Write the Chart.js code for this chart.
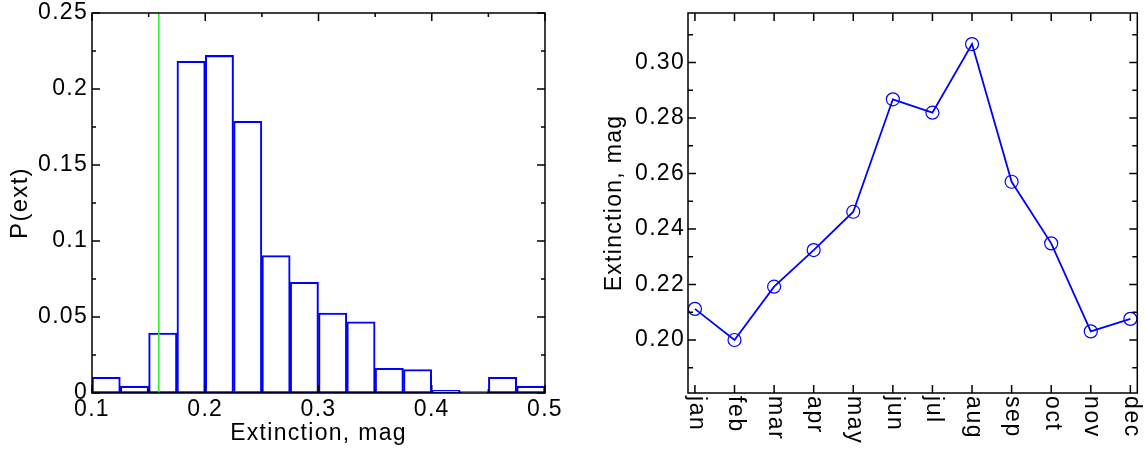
<!DOCTYPE html>
<html>
<head>
<meta charset="utf-8">
<script src="https://cdn.jsdelivr.net/npm/chart.js@4.4.0/dist/chart.umd.min.js"></script>
<style>
  html, body { margin: 0; padding: 0; background: #fff; }
  #wrap { position: relative; width: 1145px; height: 449px; overflow: hidden; }
  .box { position: absolute; top: 0; height: 449px; }
  #histBox { left: 0; width: 565px; }
  #monthBox { left: 575px; width: 570px; }
</style>
</head>
<body>
<div id="wrap">
  <div class="box" id="histBox"><canvas id="histChart"></canvas></div>
  <div class="box" id="monthBox"><canvas id="monthChart"></canvas></div>
</div>
<script>
// left panel: histogram of extinction (bins of 0.025 mag)
const binCentres = [0.1125, 0.1375, 0.1625, 0.1875, 0.2125, 0.2375, 0.2625, 0.2875,
                    0.3125, 0.3375, 0.3625, 0.3875, 0.4125, 0.4375, 0.4625, 0.4875];
const binProb = [0.0103, 0.0045, 0.0395, 0.2182, 0.2221, 0.1787, 0.0904, 0.0728,
                 0.0526, 0.0469, 0.0162, 0.0154, 0.0018, 0.0009, 0.0103, 0.0045];
const cutLine = 0.159;
const histXTicks = [0.1, 0.15, 0.2, 0.25, 0.3, 0.35, 0.4, 0.45, 0.5];
const histXLabels = ['0.1', '0.2', '0.3', '0.4', '0.5'];
const histYTicks = [0, 0.025, 0.05, 0.075, 0.1, 0.125, 0.15, 0.175, 0.2, 0.225, 0.25];
const histYLabels = ['0', '0.05', '0.1', '0.15', '0.2', '0.25'];

// right panel: monthly mean extinction
const months = ['jan', 'feb', 'mar', 'apr', 'may', 'jun', 'jul', 'aug', 'sep', 'oct', 'nov', 'dec'];
const monthExt = [0.2112, 0.2000, 0.2192, 0.2324, 0.2462, 0.2867, 0.2819, 0.3066, 0.2570, 0.2348, 0.2031, 0.2076];
const monthYTicks = [0.19, 0.20, 0.21, 0.22, 0.23, 0.24, 0.25, 0.26, 0.27, 0.28, 0.29, 0.30, 0.31];
const monthYLabels = ['0.20', '0.22', '0.24', '0.26', '0.28', '0.30'];

const FONT = '"Liberation Sans", Arial, Helvetica, sans-serif';
Chart.defaults.font.family = FONT;
Chart.defaults.font.size = 23;
Chart.defaults.color = '#000';

// box round the plot area with inward ticks on all four sides
const frameTicks = {
  id: 'frameTicks',
  beforeDraw(chart) {
    chart.ctx.letterSpacing = '1.3px';
  },
  afterDraw(chart, args, opts) {
    const { ctx, chartArea: a } = chart;
    const xs = chart.scales.x, ys = chart.scales.y;
    ctx.save();
    ctx.strokeStyle = '#000';
    ctx.lineWidth = 1.5;
    ctx.beginPath();
    xs.ticks.forEach(t => {
      const px = xs.getPixelForValue(t.value);
      const len = t.label !== '' ? opts.major : opts.minor;
      ctx.moveTo(px, a.bottom); ctx.lineTo(px, a.bottom - len);
      ctx.moveTo(px, a.top); ctx.lineTo(px, a.top + len);
    });
    ys.ticks.forEach(t => {
      const py = ys.getPixelForValue(t.value);
      const len = t.label !== '' ? opts.major : opts.minor;
      ctx.moveTo(a.left, py); ctx.lineTo(a.left + len, py);
      ctx.moveTo(a.right, py); ctx.lineTo(a.right - len, py);
    });
    ctx.stroke();
    ctx.strokeRect(a.left, a.top, a.right - a.left, a.bottom - a.top);
    ctx.restore();
  }
};

// month names turned a quarter clockwise under the axis
const monthLabels = {
  id: 'monthLabels',
  afterDraw(chart) {
    const { ctx, chartArea: a } = chart;
    const xs = chart.scales.x;
    ctx.save();
    ctx.font = '23px ' + FONT;
    ctx.letterSpacing = '1.6px';
    ctx.fillStyle = '#000';
    ctx.textAlign = 'left';
    ctx.textBaseline = 'middle';
    months.forEach((m, i) => {
      ctx.save();
      ctx.translate(xs.getPixelForValue(i) + 1, a.bottom + 3);
      ctx.rotate(Math.PI / 2);
      ctx.fillText(m, 0, 0);
      ctx.restore();
    });
    ctx.restore();
  }
};

function fixSize(w, h) {
  return (scale) => {
    if (w) scale.width = w;
    if (h) scale.height = h;
    scale.paddingLeft = 0; scale.paddingRight = 0;
    scale.paddingTop = 0; scale.paddingBottom = 0;
  };
}

function setTicks(values) {
  return (scale) => { scale.ticks = values.map(v => ({ value: v })); };
}

const fmt = (v) => String(+v.toFixed(3));

new Chart(document.getElementById('histChart'), {
  type: 'bar',
  data: {
    datasets: [
      {
        type: 'line',
        order: 0,
        data: [{ x: cutLine, y: 0 }, { x: cutLine, y: 0.25 }],
        borderColor: '#22ee22',
        borderWidth: 1.5,
        pointRadius: 0
      },
      {
        type: 'bar',
        order: 1,
        data: binCentres.map((c, i) => ({ x: c, y: binProb[i] })),
        backgroundColor: 'rgba(0,0,0,0)',
        borderColor: '#0000ff',
        borderWidth: 1.4,
        borderSkipped: false,
        barPercentage: 1,
        categoryPercentage: 1
      }
    ]
  },
  options: {
    responsive: true,
    maintainAspectRatio: false,
    animation: false,
    layout: { padding: { top: 13, right: 20, left: 0, bottom: 0 } },
    plugins: {
      legend: { display: false },
      tooltip: { enabled: false },
      frameTicks: { major: 8, minor: 4 }
    },
    scales: {
      x: {
        type: 'linear',
        min: 0.1, max: 0.5,
        offset: false,
        grid: { display: false, offset: false, drawTicks: false },
        border: { display: false },
        afterBuildTicks: setTicks(histXTicks),
        afterFit: fixSize(0, 56),
        ticks: {
          autoSkip: false, maxRotation: 0, padding: 3,
          callback: (v) => histXLabels.includes(fmt(v)) ? fmt(v) : ''
        },
        title: { display: true, text: 'Extinction, mag', padding: { top: 0, bottom: 2 } }
      },
      y: {
        min: 0, max: 0.25,
        grid: { display: false, drawTicks: false },
        border: { display: false },
        afterBuildTicks: setTicks(histYTicks),
        afterFit: fixSize(92, 0),
        ticks: {
          autoSkip: false, padding: 4,
          callback: (v) => histYLabels.includes(fmt(v)) ? fmt(v) : ''
        },
        title: { display: true, text: 'P(ext)', font: { size: 24 }, padding: { top: 6, bottom: 0 } }
      }
    }
  },
  plugins: [frameTicks]
});

new Chart(document.getElementById('monthChart'), {
  type: 'line',
  data: {
    datasets: [{
      data: months.map((m, i) => ({ x: i, y: monthExt[i] })),
      borderColor: '#0000ff',
      borderWidth: 1.8,
      pointStyle: 'circle',
      pointRadius: 6.5,
      pointBorderWidth: 1.2,
      pointBorderColor: '#0000ff',
      pointBackgroundColor: 'rgba(0,0,0,0)',
      tension: 0
    }]
  },
  options: {
    responsive: true,
    maintainAspectRatio: false,
    animation: false,
    layout: { padding: { top: 13, right: 4, left: 0, bottom: 0 } },
    plugins: {
      legend: { display: false },
      tooltip: { enabled: false },
      frameTicks: { major: 8, minor: 5 }
    },
    scales: {
      x: {
        type: 'linear',
        min: -0.175, max: 11.175,
        grid: { display: false, drawTicks: false },
        border: { display: false },
        afterBuildTicks: setTicks(months.map((m, i) => i)),
        afterFit: fixSize(0, 56),
        ticks: { display: false, autoSkip: false, callback: (v) => months[v] || '' }
      },
      y: {
        min: 0.1809, max: 0.3178,
        grid: { display: false, drawTicks: false },
        border: { display: false },
        afterBuildTicks: setTicks(monthYTicks),
        afterFit: fixSize(113, 0),
        ticks: {
          autoSkip: false, padding: 3,
          callback: (v) => monthYLabels.includes(v.toFixed(2)) ? v.toFixed(2) : ''
        },
        title: { display: true, text: 'Extinction, mag', padding: { top: 26, bottom: 0 } }
      }
    }
  },
  plugins: [frameTicks, monthLabels]
});
</script>
</body>
</html>
